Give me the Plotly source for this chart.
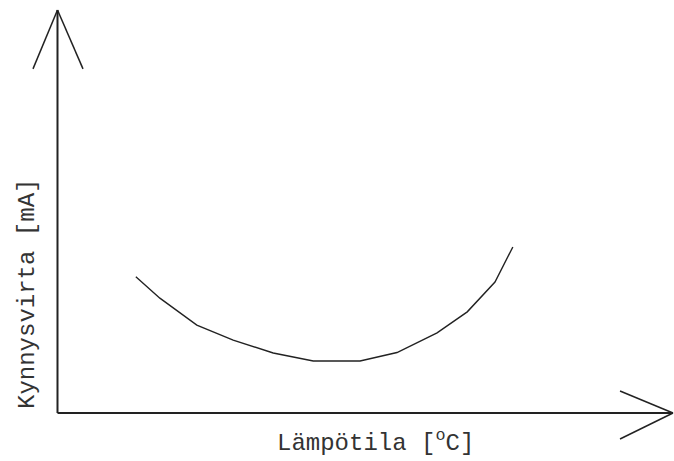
import plotly.graph_objects as go

# Schematic data (arbitrary units): threshold current vs temperature
temperature = [12.8, 16.7, 22.7, 28.6, 35.1, 41.6, 49.2, 55.2, 61.7, 66.6, 71.1, 74.0]
threshold_current = [33.8, 28.5, 21.8, 18.1, 14.9, 12.9, 12.9, 15.0, 19.9, 25.1, 32.5, 41.2]

x_label = "Lämpötila [<sup>o</sup>C]"
y_label = "Kynnysvirta [mA]"

FONT = "Courier New, Liberation Mono, monospace"
AX = "#222222"

fig = go.Figure()
fig.add_trace(go.Scatter(
    x=temperature, y=threshold_current, mode="lines",
    line=dict(color="#222222", width=1.4), hoverinfo="skip", showlegend=False,
))

fig.update_layout(
    width=674, height=461,
    margin=dict(l=57, r=1, t=10, b=48),
    paper_bgcolor="white", plot_bgcolor="white",
    xaxis=dict(range=[0, 100], showgrid=False, zeroline=False, showticklabels=False,
               ticks="", showline=False),
    yaxis=dict(range=[0, 100], showgrid=False, zeroline=False, showticklabels=False,
               ticks="", showline=False),
    showlegend=False,
)

line_style = dict(color=AX, width=2)
wing_style = dict(color=AX, width=1.5)
# axes
fig.add_shape(type="line", xref="paper", yref="paper", x0=0.0008, y0=0, x1=0.0008, y1=1.0, line=line_style)
fig.add_shape(type="line", xref="paper", yref="paper", x0=0.0008, y0=0, x1=1.0, y1=0, line=line_style)
# y arrow head (open V)
fig.add_shape(type="line", xref="paper", yref="paper", x0=-0.039, y0=0.854, x1=0.0008, y1=1.0, line=wing_style)
fig.add_shape(type="line", xref="paper", yref="paper", x0=0.0422, y0=0.854, x1=0.0008, y1=1.0, line=wing_style)
# x arrow head (open V)
fig.add_shape(type="line", xref="paper", yref="paper", x0=0.914, y0=0.0546, x1=1.0, y1=0, line=wing_style)
fig.add_shape(type="line", xref="paper", yref="paper", x0=0.914, y0=-0.0645, x1=1.0, y1=0, line=wing_style)

fig.add_annotation(text=x_label, xref="paper", yref="paper",
                   x=(375 - 57) / 616, y=-(441 - 413) / 403,
                   xanchor="center", yanchor="middle", showarrow=False,
                   font=dict(family=FONT, size=24, color="#333333"))
fig.add_annotation(text=y_label, xref="paper", yref="paper",
                   x=-(57 - 27) / 616, y=(413 - 294) / 403, textangle=-90,
                   xanchor="center", yanchor="middle", showarrow=False,
                   font=dict(family=FONT, size=24, color="#333333"))

fig.write_html("out.html", config={"displayModeBar": False},
               post_script="document.body.style.margin='0';document.body.style.overflow='hidden';")
